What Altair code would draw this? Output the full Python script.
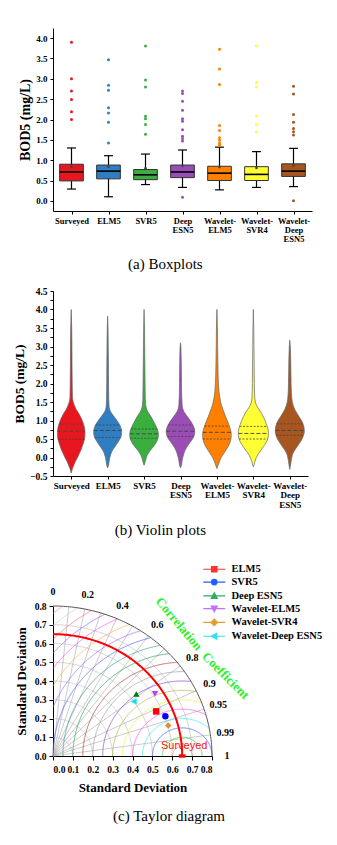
import json
import numpy as np
import pandas as pd
import altair as alt

# ---------------- data ----------------
models = ["Surveyed", "ELM5", "SVR5", "Deep ESN5", "Wavelet-ELM5", "Wavelet-SVR4", "Wavelet-Deep ESN5"]
tick_labels = [["Surveyed"], ["ELM5"], ["SVR5"], ["Deep", "ESN5"], ["Wavelet-", "ELM5"],
               ["Wavelet-", "SVR4"], ["Wavelet-", "Deep", "ESN5"]]
model_colors = ["#e8171f", "#2f7ec2", "#3aae3f", "#9a4db5", "#ff8000", "#ffff33", "#a8561f"]

# (a) boxplots
box_whisker_low = [0.29, 0.10, 0.40, 0.33, 0.27, 0.33, 0.35]
box_q1 = [0.49, 0.54, 0.52, 0.57, 0.50, 0.50, 0.60]
box_median = [0.71, 0.73, 0.64, 0.71, 0.68, 0.65, 0.73]
box_q3 = [0.90, 0.88, 0.77, 0.88, 0.85, 0.84, 0.91]
box_whisker_high = [1.30, 1.11, 1.15, 1.25, 1.32, 1.21, 1.29]
box_mean = [0.84, 0.84, 0.80, 0.86, 0.83, 0.81, 0.86]
box_outliers = [
    [3.90, 3.00, 2.70, 2.49, 2.19, 2.00],
    [3.47, 2.84, 2.72, 2.29, 2.16, 1.93, 1.42],
    [3.81, 2.97, 2.80, 2.08, 2.02, 1.88, 1.64],
    [2.70, 2.64, 2.45, 2.23, 2.02, 1.96, 1.75, 1.59, 1.53, 1.47, 0.09],
    [3.73, 3.24, 2.86, 1.85, 1.73, 1.55, 1.49, 1.42, 1.38, 1.36],
    [3.81, 2.91, 2.80, 2.08, 1.88, 1.69],
    [2.82, 2.63, 2.12, 1.93, 1.78, 1.70, 1.62, 0.00],
]

# (b) violins: density half-widths read at shared levels
violin_levels = [-0.3, -0.2, -0.1, 0.0, 0.1, 0.2, 0.3, 0.4, 0.5, 0.6, 0.7, 0.8, 0.9, 1.0,
                 1.1, 1.2, 1.3, 1.4, 1.5, 1.6, 1.8, 2.0, 2.5, 3.0, 3.5]
violin_density = [
    [1.3, 2.7, 4.3, 6.3, 8.0, 9.7, 11.0, 12.3, 13.3, 13.7, 13.7, 13.3, 12.3, 11.0, 9.3, 7.3, 5.0, 3.3, 2.0, 1.3, 1.1, 1.0, 0.8, 0.7, 0.5],
    [0, 1.0, 1.5, 2.2, 3.3, 5.0, 7.5, 10.0, 12.3, 13.7, 14.0, 13.3, 11.7, 9.3, 6.5, 3.8, 2.0, 1.4, 1.2, 1.1, 1.0, 0.9, 0.8, 0.6, 0.4],
    [0, 0, 1.3, 2.3, 4.0, 6.5, 9.5, 12.0, 13.7, 14.3, 14.0, 12.7, 11.0, 9.0, 7.0, 4.5, 2.7, 1.7, 1.4, 1.2, 1.1, 1.0, 0.8, 0.6, 0.4],
    [0, 1.0, 1.5, 2.3, 3.3, 4.7, 6.7, 9.3, 12.0, 13.7, 14.3, 13.7, 12.0, 9.7, 7.0, 4.3, 2.5, 1.7, 1.5, 1.3, 1.1, 1.0, 0.8, 0.4, 0],
    [0, 1.3, 2.7, 4.3, 6.7, 9.0, 11.3, 13.0, 14.0, 14.3, 14.0, 13.0, 11.7, 10.3, 8.7, 7.3, 6.0, 4.7, 3.7, 3.0, 2.0, 1.5, 1.0, 0.7, 0.5],
    [0, 0.7, 1.7, 3.0, 5.0, 7.7, 10.3, 12.7, 14.3, 15.0, 15.0, 14.3, 13.0, 11.7, 10.0, 8.0, 5.7, 3.3, 2.0, 1.4, 1.1, 1.0, 0.8, 0.6, 0.4],
    [0, 0.8, 1.3, 2.0, 3.0, 5.0, 7.5, 10.0, 12.3, 13.7, 14.5, 14.3, 13.3, 11.7, 9.3, 7.0, 5.0, 3.5, 2.5, 2.0, 1.5, 1.3, 1.0, 0.5, 0],
]
violin_bottom = [-0.42, -0.28, -0.21, -0.28, -0.30, -0.25, -0.32]
violin_top = [4.0, 3.82, 4.0, 3.1, 4.0, 4.0, 3.17]

# (c) Taylor diagram
ref_std = 0.65
taylor_models = ["ELM5", "SVR5", "Deep ESN5", "Wavelet-ELM5", "Wavelet-SVR4", "Wavelet-Deep ESN5"]
taylor_std = [0.571, 0.604, 0.534, 0.611, 0.602, 0.500]
taylor_corr = [0.909, 0.936, 0.785, 0.840, 0.963, 0.814]
taylor_point_colors = ["#ff0000", "#0000ff", "#007a00", "#bf40ff", "#ee8822", "#00e5ee"]
taylor_legend_colors = ["#ff3333", "#1f5fff", "#33aa66", "#c070ff", "#e0a030", "#33e0f0"]
taylor_shapes = ["square", "circle", "triangle-up", "triangle-down", "diamond", "triangle-left"]
legend_paths = [
    "M-4,0H4M-1,-1H1V1H-1Z",
    "M-4,0H4M-1,0A1,1 0 1,0 1,0A1,1 0 1,0 -1,0Z",
    "M-4,0H4M0,-1.1L1.1,0.9H-1.1Z",
    "M-4,0H4M0,1.1L1.1,-0.9H-1.1Z",
    "M-4,0H4M0,-1.2L1.2,0L0,1.2L-1.2,0Z",
    "M-4,0H4M-1.1,0L0.9,-1.1V1.1Z",
]
std_grid = [0.1, 0.2, 0.3, 0.4, 0.5, 0.6, 0.7]
corr_lines = [0.1, 0.2, 0.3, 0.4, 0.5, 0.6, 0.7, 0.8, 0.9, 0.95, 0.99]
corr_labels = [0, 0.2, 0.4, 0.6, 0.8, 0.9, 0.95, 0.99, 1]
corr_label_text = ["0", "0.2", "0.4", "0.6", "0.8", "0.9", "0.95", "0.99", "1"]
rmsd_levels = [0.05, 0.10, 0.15, 0.20, 0.25, 0.30, 0.35, 0.40, 0.45, 0.50,
               0.55, 0.60, 0.65, 0.70, 0.75, 0.80, 0.85, 0.90, 0.95, 1.00]
rmsd_colors = ["#ff8080", "#33cc33", "#3355ff", "#33e5ff", "#ff44ff", "#eeee33", "#b0b040",
               "#7744cc", "#999999", "#aa3333", "#229955", "#339999", "#5555ff", "#9966ff",
               "#ffaa55", "#ff55ff", "#8866ff", "#ff6688", "#c8c8c8", "#ff77bb"]
max_std = 0.8

SERIF = "Liberation Serif"
positions = list(range(1, len(models) + 1))
label_expr = json.dumps(tick_labels) + "[datum.value - 1]"

# ---------------- (a) boxplots ----------------
BOX_HALF, CAP_HALF = 0.32, 0.12
box_df = pd.DataFrame({
    "model": models, "pos": positions, "lo": box_whisker_low, "q1": box_q1,
    "med": box_median, "q3": box_q3, "hi": box_whisker_high, "mean": box_mean,
})
box_df["left"] = box_df["pos"] - BOX_HALF
box_df["right"] = box_df["pos"] + BOX_HALF
box_df["capl"] = box_df["pos"] - CAP_HALF
box_df["capr"] = box_df["pos"] + CAP_HALF
out_df = pd.DataFrame([{"model": m, "pos": i + 1, "value": v}
                       for i, m in enumerate(models) for v in box_outliers[i]])

color_scale = alt.Scale(domain=models, range=model_colors)
cat_scale = alt.Scale(domain=[0.5, 7.5], nice=False, zero=False)


def cat_axis(size):
    return alt.Axis(values=positions, labelExpr=label_expr, title=None, grid=False,
                    labelFont=SERIF, labelFontWeight="bold", labelFontSize=size,
                    labelLineHeight=size + 0.5, labelOverlap=False, labelPadding=2,
                    tickSize=3, labelBound=False)


box_y_scale = alt.Scale(domain=[-0.25, 4.25], nice=False, zero=False)
box_y_axis = alt.Axis(values=[0, 0.5, 1, 1.5, 2, 2.5, 3, 3.5, 4], format=".1f",
                      title="BOD5  (mg/L)", grid=False, titleFontSize=14, labelFontSize=9,
                      tickSize=3, labelPadding=3, titlePadding=3)


def bx(f):
    return alt.X(f + ":Q", scale=cat_scale, axis=cat_axis(8.5))


def by(f):
    return alt.Y(f + ":Q", scale=box_y_scale, axis=box_y_axis)


bb = alt.Chart(box_df)
box_chart = alt.layer(
    bb.mark_rule(color="black", strokeWidth=1.2).encode(x=bx("pos"), y=by("lo"), y2=alt.Y2("hi")),
    bb.mark_rule(color="black", strokeWidth=1.2).encode(x=bx("capl"), x2=alt.X2("capr"), y=by("lo")),
    bb.mark_rule(color="black", strokeWidth=1.2).encode(x=bx("capl"), x2=alt.X2("capr"), y=by("hi")),
    bb.mark_rect(stroke="#333333", strokeWidth=1).encode(
        x=bx("left"), x2=alt.X2("right"), y=by("q1"), y2=alt.Y2("q3"),
        color=alt.Color("model:N", scale=color_scale, legend=None)),
    bb.mark_rule(color="black", strokeWidth=1.6).encode(x=bx("left"), x2=alt.X2("right"), y=by("med")),
    bb.mark_circle(size=7, color="#444444", opacity=1).encode(x=bx("pos"), y=by("mean")),
    alt.Chart(out_df).mark_circle(size=9, opacity=1).encode(
        x=bx("pos"), y=by("value"), color=alt.Color("model:N", scale=color_scale, legend=None)),
).properties(
    width=259, height=183,
    title=alt.TitleParams("(a) Boxplots", orient="bottom", anchor="middle", frame="bounds",
                          font=SERIF, fontSize=15, fontWeight="normal", offset=14, color="black"),
)

# ---------------- (b) violins ----------------
PX_PER_CAT = 36.4
vrows, qrows = [], []
for i, m in enumerate(models):
    lv_used = [violin_bottom[i]]
    w_used = [0.0]
    for lv, w in zip(violin_levels, violin_density[i]):
        if w > 0 and violin_bottom[i] < lv < violin_top[i]:
            lv_used.append(lv)
            w_used.append(w)
    lv_used.append(violin_top[i])
    w_used.append(0.0)
    for lv, w in zip(lv_used, w_used):
        hw = w / PX_PER_CAT
        vrows.append({"model": m, "level": lv, "left": i + 1 - hw, "right": i + 1 + hw})
    for kind, q in (("q1", box_q1[i]), ("med", box_median[i]), ("q3", box_q3[i])):
        hw = float(np.interp(q, lv_used, w_used)) / PX_PER_CAT
        qrows.append({"model": m, "kind": kind, "level": q, "left": i + 1 - hw, "right": i + 1 + hw})
v_df = pd.DataFrame(vrows)
q_df = pd.DataFrame(qrows)

v_y_scale = alt.Scale(domain=[-0.5, 4.5], nice=False, zero=False)
v_tick_values = [round(-0.5 + 0.25 * k, 2) for k in range(21)]
v_y_axis = alt.Axis(values=v_tick_values,
                    labelExpr="datum.value % 0.5 == 0 ? format(datum.value, '.1f') : ''",
                    title="BOD5 (mg/L)", grid=False, titleFontSize=13.5, labelFontSize=9.5,
                    tickSize=3, labelPadding=3, titlePadding=3, labelOverlap=False)


def vx(f):
    return alt.X(f + ":Q", scale=cat_scale, axis=cat_axis(9))


def vy(f):
    return alt.Y(f + ":Q", scale=v_y_scale, axis=v_y_axis)


violin_chart = alt.layer(
    alt.Chart(v_df).mark_area(orient="horizontal", interpolate="monotone", stroke="#666666",
                              strokeWidth=0.7, fillOpacity=1).encode(
        y=vy("level"), x=vx("left"), x2=alt.X2("right"),
        color=alt.Color("model:N", scale=color_scale, legend=None),
        detail="model:N"),
    alt.Chart(q_df).transform_filter("datum.kind != 'med'").mark_rule(
        color="#444444", strokeWidth=0.8, strokeDash=[2, 1.5]).encode(
        x=vx("left"), x2=alt.X2("right"), y=vy("level")),
    alt.Chart(q_df).transform_filter("datum.kind == 'med'").mark_rule(
        color="#444444", strokeWidth=0.9, strokeDash=[4, 2]).encode(
        x=vx("left"), x2=alt.X2("right"), y=vy("level")),
).properties(
    width=255, height=185,
    title=alt.TitleParams("(b) Violin plots", orient="bottom", anchor="middle", frame="bounds",
                          font=SERIF, fontSize=15, fontWeight="normal", offset=14, color="black"),
)

# ---------------- (c) Taylor diagram ----------------
t_scale = alt.Scale(domain=[0, max_std], nice=False, zero=False)
t_vals = [0, 0.1, 0.2, 0.3, 0.4, 0.5, 0.6, 0.7, 0.8]
tx_axis = alt.Axis(values=t_vals, format=".1f", title="Standard Deviation", grid=False,
                   titleFontSize=13, labelFontSize=9.5, tickSize=4, labelPadding=4, titlePadding=8,
                   labelOverlap=False)
ty_axis = alt.Axis(values=t_vals, format=".1f", title="Standard Deviation", grid=False,
                   titleFontSize=13, labelFontSize=9.5, tickSize=4, labelPadding=3, titlePadding=6,
                   labelOverlap=False)


def tx(f):
    return alt.X(f + ":Q", scale=t_scale, axis=tx_axis)


def ty(f):
    return alt.Y(f + ":Q", scale=t_scale, axis=ty_axis)


theta = np.linspace(0, np.pi / 2, 121)
std_rows = [{"arc": r, "k": k, "x": r * np.cos(t), "y": r * np.sin(t)}
            for r in std_grid for k, t in enumerate(theta)]
std_df = pd.DataFrame(std_rows)
outer_df = pd.DataFrame([{"arc": "outer", "k": k, "x": max_std * np.cos(t), "y": max_std * np.sin(t)}
                         for k, t in enumerate(theta)])
ref_arc_df = pd.DataFrame([{"arc": "ref", "k": k, "x": ref_std * np.cos(t), "y": ref_std * np.sin(t)}
                           for k, t in enumerate(theta)])
radial_df = pd.DataFrame([{"c": c, "x0": 0.0, "y0": 0.0, "x1": max_std * c,
                           "y1": max_std * np.sqrt(1 - c * c)} for c in corr_lines])
phi = np.linspace(0, np.pi, 721)
rm_rows = []
for R in rmsd_levels:
    for k, p in enumerate(phi):
        x = ref_std + R * np.cos(p)
        y = R * np.sin(p)
        if x >= 0 and x * x + y * y <= max_std ** 2 + 1e-9:
            rm_rows.append({"lvl": f"{R:.2f}", "k": k, "x": x, "y": y})
rm_df = pd.DataFrame(rm_rows)
R_LAB = 0.875
lab_df = pd.DataFrame({"t": corr_label_text,
                       "x": [R_LAB * c for c in corr_labels],
                       "y": [R_LAB * np.sqrt(1 - c * c) for c in corr_labels]})
pt_df = pd.DataFrame({"model": taylor_models, "std": taylor_std, "corr": taylor_corr})
pt_df["x"] = pt_df["std"] * pt_df["corr"]
pt_df["y"] = pt_df["std"] * np.sqrt(1 - pt_df["corr"] ** 2)
ref_df = pd.DataFrame({"name": ["Surveyed"], "x": [ref_std], "y": [0.0]})

leg = alt.Legend(title=None, orient="none", legendX=156, legendY=-42, symbolSize=30,
                 symbolStrokeWidth=1.2, symbolOpacity=1, labelFont=SERIF, labelFontWeight="bold",
                 labelFontSize=10.5, labelOffset=12, rowPadding=1.8, labelColor="black")

taylor_chart = alt.layer(
    alt.Chart(std_df).mark_line(color="#b8b8b8", strokeWidth=0.6).encode(
        x=tx("x"), y=ty("y"), detail="arc:N", order="k:Q"),
    alt.Chart(radial_df).mark_rule(color="#a8a8a8", strokeWidth=0.6).encode(
        x=tx("x0"), y=ty("y0"), x2=alt.X2("x1"), y2=alt.Y2("y1")),
    alt.Chart(rm_df).mark_line(strokeWidth=0.7).encode(
        x=tx("x"), y=ty("y"), order="k:Q",
        color=alt.Color("lvl:N", scale=alt.Scale(domain=[f"{r:.2f}" for r in rmsd_levels],
                                                 range=rmsd_colors), legend=None)),
    alt.Chart(outer_df).mark_line(color="#555555", strokeWidth=1).encode(
        x=tx("x"), y=ty("y"), order="k:Q"),
    alt.Chart(ref_arc_df).mark_line(color="#ff0000", strokeWidth=2).encode(
        x=tx("x"), y=ty("y"), order="k:Q"),
    alt.Chart(ref_df).mark_point(shape="M-1,-0.5H1V0.5H-1Z", filled=True, size=45,
                                 color="#ff0000", opacity=1).encode(x=tx("x"), y=ty("y")),
    alt.Chart(ref_df).mark_text(font="Liberation Sans", fontSize=11, color="#ff1010",
                                dx=2, dy=-10).encode(x=tx("x"), y=ty("y"), text="name:N"),
    alt.Chart(pt_df).mark_point(filled=True, size=42, opacity=1).encode(
        x=tx("x"), y=ty("y"),
        color=alt.Color("model:N", scale=alt.Scale(domain=taylor_models, range=taylor_point_colors), legend=None),
        shape=alt.Shape("model:N", scale=alt.Scale(domain=taylor_models, range=taylor_shapes), legend=None)),
    alt.Chart(lab_df).mark_text(font=SERIF, fontWeight="bold", fontSize=10, color="black").encode(
        x=tx("x"), y=ty("y"), text="t:N"),
    alt.Chart(pd.DataFrame({"t": ["Correlation"], "x": [0.633], "y": [0.704]})).mark_text(
        font=SERIF, fontWeight="bold", fontSize=13, color="#2bf02b", angle=50).encode(
        x=tx("x"), y=ty("y"), text="t:N"),
    alt.Chart(pd.DataFrame({"t": ["Coefficient"], "x": [0.868], "y": [0.428]})).mark_text(
        font=SERIF, fontWeight="bold", fontSize=13, color="#2bf02b", angle=45).encode(
        x=tx("x"), y=ty("y"), text="t:N"),
    alt.Chart(pt_df).mark_point(filled=True, opacity=0, size=30).encode(
        x=tx("x"), y=ty("y"),
        fill=alt.Fill("model:N", scale=alt.Scale(domain=taylor_models, range=taylor_legend_colors), legend=leg),
        stroke=alt.Stroke("model:N", scale=alt.Scale(domain=taylor_models, range=taylor_legend_colors), legend=leg),
        shape=alt.Shape("model:N", scale=alt.Scale(domain=taylor_models, range=legend_paths), legend=leg)),
).resolve_scale(color="independent", shape="independent", fill="independent", stroke="independent").properties(
    width=159, height=150,
    title=alt.TitleParams("(c) Taylor diagram", orient="bottom", anchor="middle", frame="bounds",
                          font=SERIF, fontSize=15, fontWeight="normal", offset=14, color="black"),
)

chart = alt.vconcat(
    box_chart,
    alt.vconcat(violin_chart, taylor_chart, spacing=26),
    spacing=14,
).properties(
    padding={"left": 4, "top": 20, "right": 2, "bottom": 2},
).configure_view(strokeWidth=0).configure_axis(
    labelFont=SERIF, labelFontWeight="bold", labelColor="black",
    titleFont=SERIF, titleFontWeight="bold", titleColor="black",
    domainColor="black", tickColor="black", domainWidth=1,
)

chart.save("out.html", embed_options={"renderer": "svg", "actions": False})
